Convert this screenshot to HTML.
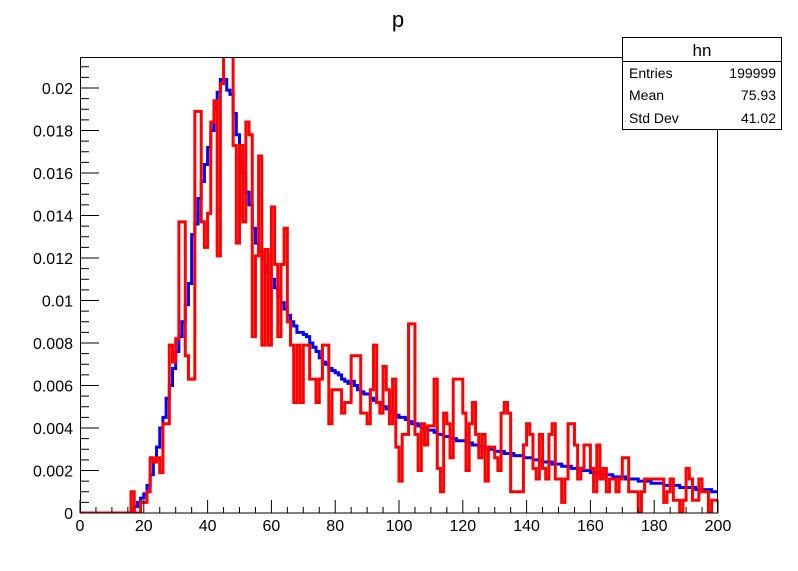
<!DOCTYPE html>
<html><head><meta charset="utf-8"><style>
body{margin:0;background:#fff;}
svg{display:block;font-family:"Liberation Sans",sans-serif;}
</style></head><body>
<svg id="chart" width="798" height="571">
<rect width="798" height="571" fill="#fff"/>
<text x="398" y="27" font-size="22" text-anchor="middle">p</text>
<defs><clipPath id="clip"><rect x="80" y="57" width="638" height="456"/></clipPath></defs>
<g id="marks" clip-path="url(#clip)"></g>
<g id="axes"></g>
<g>
<rect x="622.5" y="37.5" width="159" height="92" fill="#fff" stroke="#000"/>
<line x1="622" y1="61.5" x2="782" y2="61.5" stroke="#000"/>
<text x="702" y="56" font-size="17" text-anchor="middle">hn</text>
<text x="629" y="78" font-size="14">Entries</text><text x="776" y="78" font-size="14" text-anchor="end">199999</text>
<text x="629" y="100" font-size="14">Mean</text><text x="776" y="100" font-size="14" text-anchor="end">75.93</text>
<text x="629" y="123" font-size="14">Std Dev</text><text x="776" y="123" font-size="14" text-anchor="end">41.02</text>
</g>
</svg>
<script>
const xTicks=[0,20,40,60,80,100,120,140,160,180,200];
const yTicks=[0,0.002,0.004,0.006,0.008,0.01,0.012,0.014,0.016,0.018,0.02];
const yTickLabels=["0","0.002","0.004","0.006","0.008","0.01","0.012","0.014","0.016","0.018","0.02"];
const blueValues=[0,0,0,0,0,0,0,0,0,0,0,0,0,0,0,0,0.0001,0.0003,0.0005,0.0007,
0.0009,0.0013,0.0018,0.0024,0.0031,0.004,0.0045,0.0054,0.006,0.0068,
0.0076,0.0083,0.009,0.0098,0.0108,0.0131,0.0136,0.0148,0.0156,0.0164,
0.0172,0.018,0.019,0.0198,0.0204,0.0204,0.0199,0.0197,0.0188,0.0178,
0.017,0.016,0.0151,0.0145,0.0134,0.0127,0.0123,0.012,0.0116,0.0113,
0.011,0.0106,0.0102,0.0099,0.0096,0.0093,0.009,0.0088,0.0085,0.0085,
0.0084,0.0083,0.008,0.0078,0.0076,0.0073,0.0071,0.0070,0.0068,0.0067,
0.0066,0.0065,0.0063,0.0062,0.0061,0.0062,0.0060,0.0058,0.0057,0.0056,
0.0056,0.0054,0.0053,0.0052,0.0051,0.0050,0.0049,0.0048,0.0047,0.0046,
0.0045,0.0045,0.0044,0.0043,0.0042,0.0042,0.0041,0.0040,0.0040,0.0039,
0.0039,0.0038,0.0037,0.0037,0.0036,0.0036,0.0035,0.0035,0.0034,0.0034,
0.0034,0.0033,0.0033,0.0032,0.0032,0.0031,0.0031,0.0031,0.0030,0.0030,
0.0029,0.0029,0.0029,0.0028,0.0028,0.0028,0.0027,0.0027,0.0027,0.0026,
0.0026,0.0026,0.0025,0.0025,0.0025,0.0024,0.0024,0.0024,0.0023,0.0023,
0.0023,0.0022,0.0022,0.0022,0.0021,0.0021,0.0021,0.0020,0.0020,0.0020,
0.0019,0.0019,0.0019,0.0019,0.0018,0.0018,0.0018,0.0017,0.0017,0.0017,
0.0017,0.0016,0.0016,0.0016,0.0016,0.0015,0.0015,0.0015,0.0015,0.0014,
0.0014,0.0014,0.0014,0.0013,0.0013,0.0013,0.0013,0.0013,0.0012,0.0012,
0.0012,0.0012,0.0012,0.0011,0.0011,0.0011,0.0011,0.0011,0.0010,0.0010];
const redValues=[0,0,0,0,0,0,0,0,0,0,0,0,0,0,0,0,0.001,0,0,0.0005,
0.0005,0.001,0.0026,0.0024,0.0026,0.0019,0.0042,0.0042,0.0079,0.0071,
0.0082,0.0137,0.0137,0.0074,0.0063,0.0063,0.0189,0.0189,0.0137,0.0125,
0.0141,0.0184,0.0194,0.0121,0.0202,0.022,0.022,0.022,0.0173,0.0127,
0.0173,0.0137,0.0184,0.0178,0.0083,0.0121,0.0168,0.0079,0.0124,0.0079,
0.0144,0.0117,0.0083,0.0117,0.0134,0.009,0.0079,0.0052,0.0079,0.0052,
0.0079,0.0079,0.0063,0.0063,0.0052,0.0063,0.0079,0.0079,0.0042,0.0058,
0.0058,0.0058,0.0047,0.0052,0.0052,0.0074,0.0074,0.0074,0.0047,0.0047,
0.0042,0.0058,0.0079,0.0052,0.0047,0.0069,0.0058,0.0042,0.0063,0.0031,
0.0015,0.0037,0.0037,0.0089,0.0089,0.0037,0.002,0.0042,0.0032,0.0041,
0.0041,0.0063,0.0021,0.001,0.0047,0.0042,0.0026,0.0063,0.0063,0.0063,
0.0047,0.002,0.0042,0.0052,0.0037,0.0026,0.0037,0.0015,0.0031,0.0031,
0.0026,0.002,0.0047,0.0052,0.0047,0.001,0.001,0.001,0.001,0.0032,
0.0042,0.0037,0.0021,0.0016,0.0037,0.0021,0.0016,0.0037,0.0042,0.0016,
0.0016,0.0005,0.0016,0.0042,0.0042,0.0032,0.0016,0.0021,0.0032,0.0032,
0.0021,0.001,0.0032,0.0016,0.0021,0.001,0.0016,0.0016,0.001,0.0016,
0.0026,0.0026,0.001,0.001,0.001,0,0.001,0.0016,0.0016,0.0016,
0.0016,0.0016,0.0016,0.0005,0.001,0.0016,0.0006,0.0006,0,0.0006,
0.0021,0.0016,0.0006,0.0006,0.0016,0.001,0.001,0,0.0006,0.0006];
const X0=80,X1=718,Y0=513,Y1=57,XMAX=200,YMAX=(513-57)/21250;
function xs(v){return X0+(v/XMAX)*(X1-X0);}
function ys(v){return Y0-(v/YMAX)*(Y0-Y1);}
const NS="http://www.w3.org/2000/svg";
const marks=document.getElementById('marks'),axes=document.getElementById('axes');
function stepPath(vals){let d="M"+xs(0)+","+ys(vals[0]);for(let i=0;i<vals.length;i++){d+=" L"+xs(i)+","+ys(vals[i])+" L"+xs(i+1)+","+ys(vals[i]);}return d;}
const pb=document.createElementNS(NS,'path');
pb.setAttribute('d',stepPath(blueValues));pb.setAttribute('fill','none');pb.setAttribute('stroke','#0000ff');pb.setAttribute('stroke-width','3');


marks.appendChild(pb);
const pr=document.createElementNS(NS,'path');
pr.setAttribute('d',stepPath(redValues));pr.setAttribute('fill','none');pr.setAttribute('stroke','#ff0000');pr.setAttribute('stroke-width','3');


marks.appendChild(pr);
const fr=document.createElementNS(NS,'rect');
fr.setAttribute('x','80.5');fr.setAttribute('y','57.5');fr.setAttribute('width','637');fr.setAttribute('height','455.5');fr.setAttribute('fill','none');fr.setAttribute('stroke','#000');


axes.appendChild(fr);
function line(x1,y1,x2,y2){const l=document.createElementNS(NS,'line');l.setAttribute('x1',x1);l.setAttribute('y1',y1);l.setAttribute('x2',x2);l.setAttribute('y2',y2);l.setAttribute('stroke','#000');axes.appendChild(l);return l;}
for(let v=0;v<=200;v+=5){const major=v%20===0;const t=line(xs(v),Y0,xs(v),Y0-(major?13:6));

}
for(let i=0;i*0.0005<=YMAX;i++){const v=i*0.0005;const major=i%4===0;const t=line(X0,ys(v),X0+(major?19:9),ys(v));

}
xTicks.forEach(v=>{const t=document.createElementNS(NS,'text');t.setAttribute('x',xs(v));t.setAttribute('y',531);t.setAttribute('font-size','16');t.setAttribute('text-anchor','middle');t.textContent=v;


axes.appendChild(t);});
yTicks.forEach((v,i)=>{const t=document.createElementNS(NS,'text');t.setAttribute('x',73);t.setAttribute('y',ys(v)+6);t.setAttribute('font-size','16');t.setAttribute('text-anchor','end');t.textContent=yTickLabels[i];


axes.appendChild(t);});
</script>
</body></html>
